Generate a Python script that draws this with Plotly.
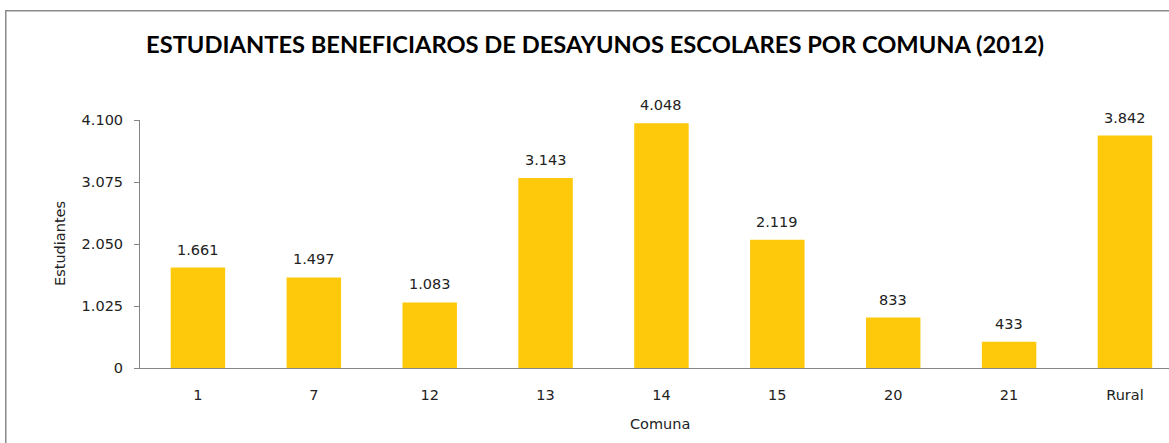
import plotly.graph_objects as go

categories = ["1", "7", "12", "13", "14", "15", "20", "21", "Rural"]
estudiantes = [1661, 1497, 1083, 3143, 4048, 2119, 833, 433, 3842]
y_ticks = [0, 1025, 2050, 3075, 4100]
y_tick_labels = ["0", "1.025", "2.050", "3.075", "4.100"]

def fmt(v):
    return f"{v:,}".replace(",", ".")

W, H = 1169, 443
L, T, B = 140, 120, 75

fig = go.Figure()
fig.add_trace(go.Bar(
    x=categories, y=estudiantes, marker=dict(color="#FDC90A", line=dict(width=0)),
    width=0.47, showlegend=False, hoverinfo="skip"))

tick_font = dict(family="DejaVu Sans", size=14.5, color="#222222")

for i, v in enumerate(estudiantes):
    fig.add_annotation(x=i, y=v, text=fmt(v), showarrow=False, yanchor="bottom",
                       yshift=8, font=tick_font)

fig.add_annotation(xref="paper", yref="paper", x=(60 - L) / (W - L), y=0.5,
                   text="Estudiantes", textangle=-90, showarrow=False,
                   xanchor="center", yanchor="middle", font=tick_font)
fig.add_annotation(xref="paper", yref="paper", x=(660 - L) / (W - L), y=-(424 - (H - B)) / (H - T - B),
                   text="Comuna", showarrow=False, xanchor="center", yanchor="middle", font=tick_font)

# outer chart border (left and top edges visible)
pw, ph = W - L, H - T - B
def px_x(p):
    return (p - L) / pw
def px_y(p):
    return ((H - B) - p) / ph
fig.add_shape(type="path", xref="paper", yref="paper",
              path=(f"M {px_x(5.75)},{px_y(H + 5)} L {px_x(5.75)},{px_y(10.75)} "
                    f"L {px_x(W + 5)},{px_y(10.75)}"),
              line=dict(width=1.5, color="#8A8A8A"), layer="above")

fig.update_layout(
    width=W, height=H,
    margin=dict(l=L, r=0, t=T, b=B),
    paper_bgcolor="white", plot_bgcolor="white",
    title=dict(text="<b>ESTUDIANTES BENEFICIAROS DE DESAYUNOS ESCOLARES POR COMUNA (2012)</b>",
               x=595 / W, xanchor="center", y=1 - 45 / H, yanchor="middle",
               font=dict(family="Lato", size=23.7, color="#000000")),
    xaxis=dict(type="category", range=[-0.5, 8.38], showline=True, linecolor="#868686",
               linewidth=1, ticks="", showgrid=False, tickfont=tick_font, ticklabelstandoff=14,
               fixedrange=True),
    yaxis=dict(range=[0, 4100], tickvals=y_ticks, ticktext=y_tick_labels, showline=True,
               linecolor="#868686", linewidth=1, ticks="outside", ticklen=5, tickcolor="#868686",
               showgrid=False, zeroline=False, tickfont=tick_font, ticklabelstandoff=8,
               fixedrange=True),
    bargap=0.53,
)

fig.write_html("out.html", config={"displayModeBar": False},
               post_script="document.body.style.margin='0';document.body.style.overflow='hidden';")
